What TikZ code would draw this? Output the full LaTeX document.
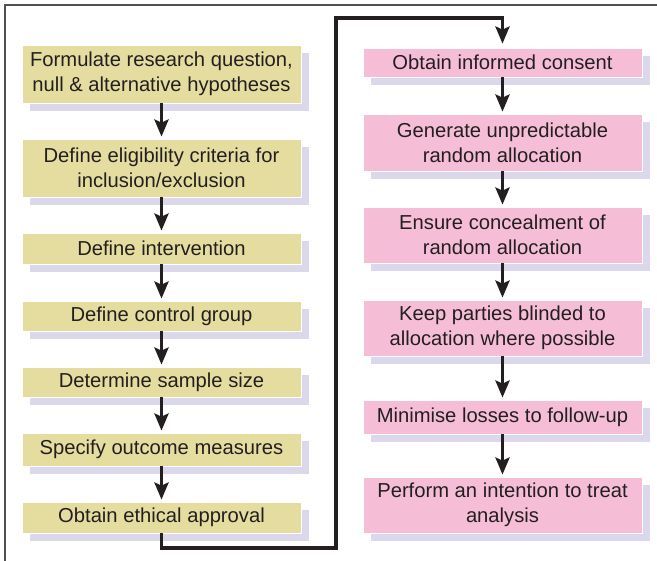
\documentclass[tikz,border=0pt]{standalone}
\usepackage{fontspec}
\setmainfont{Liberation Sans}
\usetikzlibrary{arrows.meta,shadows}
\definecolor{ybox}{RGB}{229,221,160}
\definecolor{pbox}{RGB}{246,190,214}
\definecolor{shad}{RGB}{218,216,234}
\definecolor{txt}{RGB}{35,31,32}
\definecolor{frm}{RGB}{80,80,80}
\begin{document}
\begin{tikzpicture}[x=1pt,y=-1pt,
  stepbox/.style={rectangle, draw=white, line width=0.8pt, minimum width=279pt, inner sep=0pt,
    align=center, text=txt, font=\fontsize{20.2}{25}\selectfont,
    drop shadow={shadow xshift=8pt, shadow yshift=-8pt, fill=shad, opacity=1}},
  ybx/.style={stepbox, fill=ybox},
  pbx/.style={stepbox, fill=pbox},
  arr/.style={line width=3.5pt, draw=txt, -{Stealth[length=17pt,width=14pt,inset=3pt]}, shorten >=2pt},
  conn/.style={line width=3.5pt, draw=txt, line join=miter, -{Stealth[length=17pt,width=14pt,inset=3pt]}, shorten >=4pt}
]
\useasboundingbox (0,0) rectangle (657,561);
\draw[frm, line width=1.5pt] (5,561) -- (5,5) -- (657,5);

% left column
\node[ybx, minimum height=58pt] (b1) at (161.5,74) {Formulate research question,\\null \& alternative hypotheses};
\node[ybx, minimum height=58pt] (b2) at (161.5,168) {Define eligibility criteria for\\inclusion/exclusion};
\node[ybx, minimum height=31pt] (b3) at (161.5,248.5) {Define intervention};
\node[ybx, minimum height=30pt] (b4) at (161.5,316) {Define control group};
\node[ybx, minimum height=30pt] (b5) at (161.5,382) {Determine sample size};
\node[ybx, minimum height=33pt] (b6) at (161.5,449.5) {Specify outcome measures};
\node[ybx, minimum height=31pt] (b7) at (161.5,517.5) {Obtain ethical approval};

% right column
\node[pbx, minimum height=29pt] (r1) at (502.5,62.5) {Obtain informed consent};
\node[pbx, minimum height=57pt] (r2) at (502.5,142.5) {Generate unpredictable\\random allocation};
\node[pbx, minimum height=56pt] (r3) at (502.5,235) {Ensure concealment of\\random allocation};
\node[pbx, minimum height=56pt] (r4) at (502.5,328) {Keep parties blinded to\\allocation where possible};
\node[pbx, minimum height=34pt] (r5) at (502.5,417) {Minimise losses to follow-up};
\node[pbx, minimum height=56pt] (r6) at (502.5,505) {Perform an intention to treat\\analysis};

\foreach \a/\b in {b1/b2,b2/b3,b3/b4,b4/b5,b5/b6,b6/b7,r1/r2,r2/r3,r3/r4,r4/r5,r5/r6}
  \draw[arr] (\a.south) -- (\b.north);

\coordinate (c1) at (161.5,548);
\coordinate (c2) at (336,548);
\coordinate (c3) at (336,18);
\coordinate (c4) at (502.5,18);
\draw[conn] (b7.south) -- (c1) -- (c2) -- (c3) -- (c4) -- (r1.north);
\end{tikzpicture}
\end{document}
